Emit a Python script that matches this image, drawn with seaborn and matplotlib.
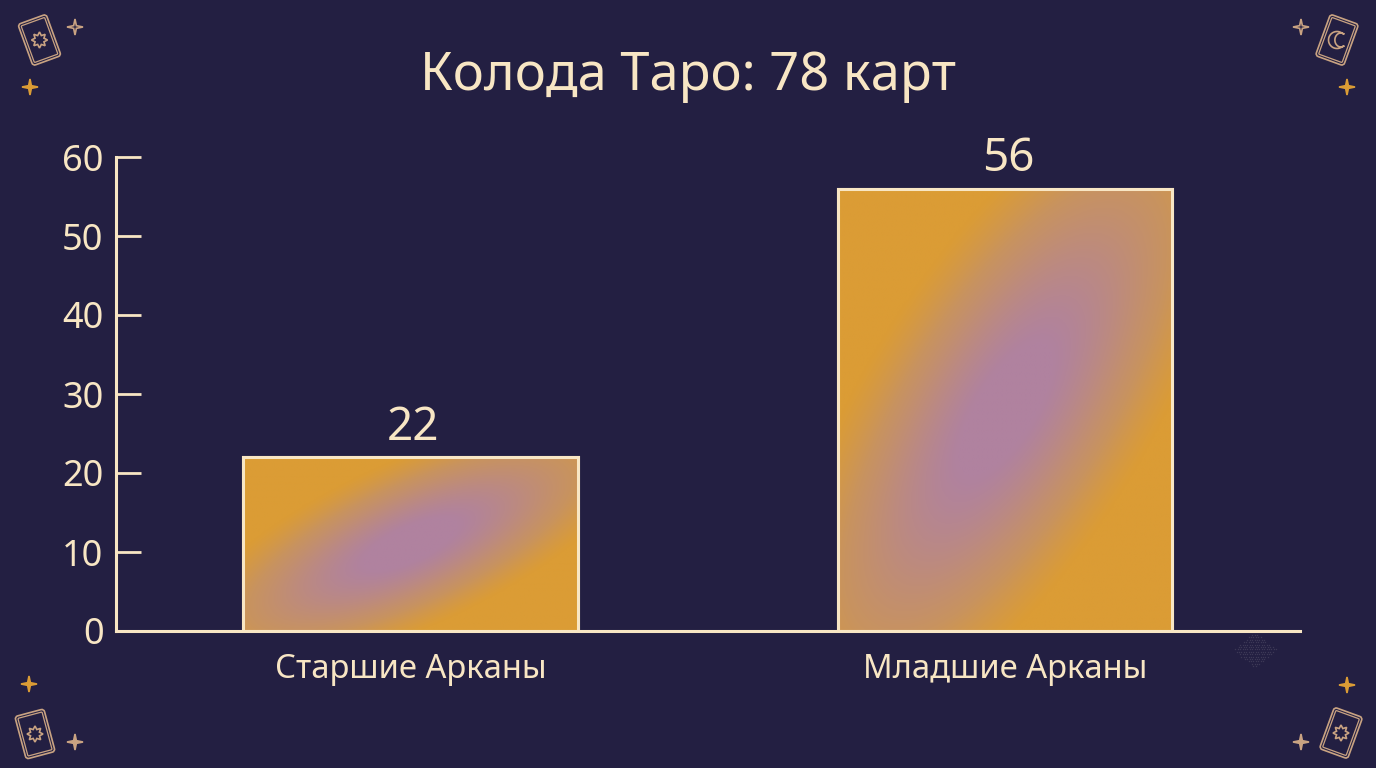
#!/usr/bin/env python3
"""Колода Таро: столбчатая диаграмма с градиентной заливкой и уголками-картами"""

import numpy as np
import pandas as pd
import matplotlib
matplotlib.use("Agg")
import matplotlib.pyplot as plt
import seaborn as sns
from matplotlib.colors import LinearSegmentedColormap
from matplotlib.patches import FancyBboxPatch, Polygon
from matplotlib.transforms import Affine2D

categories = ["Старшие Арканы", "Младшие Арканы"]
card_counts = [22, 56]
y_ticks = [0, 10, 20, 30, 40, 50, 60]
title_text = "Колода Таро: 78 карт"

BG = "#231f42"
CREAM = "#f8e6c4"
GOLD = "#db9c35"
TAN = "#c8935f"
ROSE = "#bc8a80"
MAUVE = "#b0829f"
DECOR = "#c9a382"

W, H = 1376, 768

sns.set_theme(style="white")
plt.rcParams["font.family"] = ["Noto Sans", "DejaVu Sans"]

fig = plt.figure(figsize=(W / 100, H / 100), dpi=100, facecolor=BG)

# оси в пикселях картинки: x 116..1300, y 157..631
ax = fig.add_axes([116 / W, 1 - 631 / H, (1300 - 116) / W, (631 - 157) / H], facecolor=BG)

df = pd.DataFrame({"category": categories, "count": card_counts})
sns.barplot(data=df, x="category", y="count", ax=ax, color=GOLD, width=0.563,
            saturation=1, edgecolor=CREAM, linewidth=2.2, zorder=3)

ax.set_yticks(y_ticks)
ax.set_xlabel("")
ax.set_ylabel("")
ax.tick_params(axis="y", direction="in", length=18, width=2.0, color=CREAM,
               labelcolor=CREAM, labelsize=26, pad=9, left=True)
ax.tick_params(axis="x", length=0, labelcolor=CREAM, labelsize=23.6, pad=16)
for name in ["top", "right"]:
    ax.spines[name].set_visible(False)
for name in ["left", "bottom"]:
    ax.spines[name].set_color(CREAM)
    ax.spines[name].set_linewidth(2.2)
    ax.spines[name].set_zorder(6)

# диагональное сиреневое пятно внутри каждого столбца
cmap = LinearSegmentedColormap.from_list(
    "tarot", [(0, GOLD), (0.3, TAN), (0.65, ROSE), (1, MAUVE)])
u, v = np.meshgrid(np.linspace(-1, 1, 200), np.linspace(-1, 1, 200))
along = u * 0.67 + v * 0.74
across = -u * 0.74 + v * 0.67
blob = np.exp(-(along / 1.32) ** 2 - (across / 0.55) ** 2)

for bar, value in zip(ax.patches, card_counts):
    x0, w = bar.get_x(), bar.get_width()
    img = ax.imshow(blob, extent=[x0, x0 + w, 0, value], origin="lower", cmap=cmap,
                    vmin=0.14, vmax=0.92, aspect="auto", zorder=3.5, interpolation="bilinear")
    img.set_clip_path(bar)
    # контур поверх градиента
    ax.add_patch(plt.Rectangle((x0, 0), w, value, fill=False, edgecolor=CREAM,
                               linewidth=2.2, zorder=4))
    ax.text(x0 + w / 2 + 0.005, value + 2.2, str(value), ha="center", va="baseline",
            color=CREAM, fontsize=33, zorder=7)

ax.set_xlim(-0.495, 1.496)
ax.set_ylim(0, 60)

fig.text(687.5 / W, 1 - 90 / H, title_text, ha="center", va="baseline", color=CREAM, fontsize=37.7)

# декор по углам, слой в пиксельных координатах
deco = fig.add_axes([0, 0, 1, 1], zorder=10)
deco.set_xlim(0, W)
deco.set_ylim(H, 0)
deco.axis("off")
deco.patch.set_alpha(0)


def star(cx, cy, r, color, filled=True, lw=1.2):
    pts = []
    for k in range(8):
        a = k * np.pi / 4
        rr = r if k % 2 == 0 else r * 0.24
        pts.append((cx + rr * np.sin(a), cy - rr * np.cos(a)))
    deco.add_patch(Polygon(pts, closed=True, facecolor=color if filled else BG,
                           edgecolor=color, linewidth=lw))


def sun(cx, cy, r, n=8):
    pts = []
    for k in range(n * 2):
        a = k * np.pi / n
        rr = r if k % 2 == 0 else r * 0.6
        pts.append((cx + rr * np.sin(a), cy - rr * np.cos(a)))
    deco.add_patch(Polygon(pts, closed=True, fill=False, edgecolor=DECOR, linewidth=1.2))


def moon(cx, cy, r):
    t1 = np.linspace(0.3 * np.pi, 1.7 * np.pi, 30)
    t2 = t1[::-1]
    outer = np.c_[cx + r * np.cos(t1), cy + r * np.sin(t1)]
    inner = np.c_[cx + r * 0.45 + r * 0.7 * np.cos(t2), cy + r * 0.82 * np.sin(t2)]
    deco.add_patch(Polygon(np.r_[outer, inner], closed=True, fill=False,
                           edgecolor=DECOR, linewidth=1.2))


def card(cx, cy, angle, glyph):
    rot = Affine2D().rotate_deg_around(cx, cy, angle) + deco.transData
    for hw, hh, pad, lw in [(15, 22, 3, 1.2), (12.5, 19.5, 1, 0.9)]:
        box = FancyBboxPatch((cx - hw + pad, cy - hh + pad), 2 * (hw - pad), 2 * (hh - pad),
                             boxstyle=f"round,pad={pad}", fill=False, edgecolor=DECOR,
                             linewidth=lw, transform=rot)
        deco.add_patch(box)
    if glyph == "sun":
        sun(cx, cy, 8)
    else:
        moon(cx, cy, 8.5)


card(39.5, 40, -20, "sun")
card(1337, 40, 20, "moon")
card(35, 734, -15, "sun")
card(1341, 733, 20, "sun")

star(75, 27, 8, DECOR, filled=False)
star(30, 87, 8, GOLD)
star(1301, 27, 8, DECOR, filled=False)
star(1347, 87, 8, GOLD)
star(29, 684, 8, GOLD)
star(75, 742, 8, DECOR)
star(1347, 685, 8, GOLD)
star(1301, 742, 8, DECOR)

# еле заметный ромб под осью справа
dots_x, dots_y = np.meshgrid(np.arange(1233, 1279, 2.4), np.arange(635, 670, 2.4))
dots_x[1::2] += 1.2
mask = np.abs(dots_x - 1255) / 22 + np.abs(dots_y - 650) / 18 < 1
deco.scatter(dots_x[mask], dots_y[mask], s=1.0, color="#3c3856", linewidths=0)

fig.savefig("out.png", dpi=100, facecolor=BG)
